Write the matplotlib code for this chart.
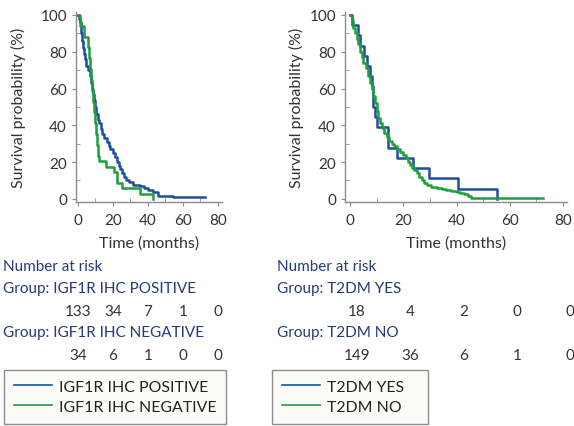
import matplotlib
matplotlib.use("Agg")
import matplotlib.pyplot as plt
import matplotlib.transforms as mtransforms
from matplotlib.ticker import MultipleLocator
from matplotlib.lines import Line2D

plt.rcParams['font.family'] = ['Lato', 'DejaVu Sans']

BLUE = '#1f4f9f'
GREEN = '#1f9e3c'
NAVY = '#263a78'
GREY_TXT = '#333333'

# ---- data: Kaplan-Meier steps (time in months, survival %) ----
igf_pos_t = [0, 0.5, 1, 1.5, 2, 2.5, 3, 3.5, 4.2, 4.7, 5.8, 6.6, 7.2, 7.8, 8.5, 9.2, 9.8,
             10.5, 11.2, 12.2, 13.2, 14.0, 14.8, 16.5, 17.5, 18.4, 20.0, 21.2, 22.3, 23.2,
             24.0, 25.2, 26.3, 27.2, 29.0, 31.5, 35.5, 38.0, 40.0, 43.0, 46.0, 54.5, 72.4]
igf_pos_s = [100, 98, 96, 93, 90, 86, 82, 79, 76, 72, 70, 67, 63, 60, 57, 54, 50,
             46, 43, 41, 38, 35, 33, 31, 29, 27, 25, 23, 20, 18,
             16, 14, 12, 10, 9, 7.5, 6.8, 6, 5, 4, 1.5, 0.75, 0.75]

igf_neg_t = [0, 1.3, 3.2, 5.7, 6.5, 6.8, 7.5, 8.2, 8.8, 9.3, 9.8, 10.3, 10.8, 11.3, 12.0,
             16.2, 20.6, 22.3, 25.3, 35.3, 42.9]
igf_neg_s = [100, 94.1, 88.2, 82.4, 76.5, 70.6, 64.7, 58.8, 52.9, 47.1, 41.2, 35.3, 29.4,
             23.5, 20.6, 17.6, 14.7, 8.8, 5.9, 2.9, 0]

t2dm_yes_t = [0, 0.6, 2.9, 3.75, 5.25, 6.25, 7.5, 8.1, 8.5, 9.4, 10.25, 14.4, 17.5, 23.5,
              29.75, 40.6, 55.25]
t2dm_yes_s = [100, 94.4, 88.9, 83.3, 77.8, 72.2, 66.7, 61.1, 50.0, 44.4, 38.9, 27.8, 22.2,
              16.7, 11.1, 5.6, 0]

t2dm_no_t = [0, 0.6, 1.25, 1.8, 2.5, 3.1, 3.75, 4.4, 5, 6, 6.9, 7.5, 8.1, 8.7, 9.4, 10,
             10.6, 11.2, 11.9, 12.8, 13.75, 14.6, 15.6, 16.5, 17.5, 18.8, 20, 21, 21.9,
             22.5, 23.2, 24, 25, 26, 26.9, 27.8, 28.75, 30.5, 32.5, 34.5, 36, 38, 40, 41.5,
             43, 44.5, 45.6, 72.5]
t2dm_no_s = [100, 97, 93, 90, 87, 84, 80, 77, 74, 71, 67, 63, 60, 56, 52, 48,
             44, 41, 38.5, 36, 33.5, 31.5, 30, 28.5, 27, 25.5, 24, 22, 20,
             18.5, 17, 15.5, 14, 12, 10, 8.7, 7.5, 6.7, 6, 5.4, 4.8, 4.4, 4, 3.4,
             2.5, 1.5, 0.7, 0.7]

risk_times = [0, 20, 40, 60, 80]
igf_pos_risk = [133, 34, 7, 1, 0]
igf_neg_risk = [34, 6, 1, 0, 0]
t2dm_yes_risk = [18, 4, 2, 0, 0]
t2dm_no_risk = [149, 36, 6, 1, 0]

W, H = 574, 427
fig = plt.figure(figsize=(W / 100, H / 100), dpi=100)


def px(x, y):
    return x / W, 1 - y / H


def make_axes(left, right, xlim):
    ax = fig.add_axes([left / W, 1 - 203 / H, (right - left) / W, 190 / H])
    ax.set_xlim(*xlim)
    ax.set_ylim(-1.7, 101.6)
    for s in ['top', 'right']:
        ax.spines[s].set_visible(False)
    for s in ['left', 'bottom']:
        ax.spines[s].set_color('#8c8c8c')
        ax.spines[s].set_linewidth(1.0)
    ax.xaxis.set_major_locator(MultipleLocator(20))
    ax.xaxis.set_minor_locator(MultipleLocator(10))
    ax.yaxis.set_major_locator(MultipleLocator(20))
    ax.yaxis.set_minor_locator(MultipleLocator(10))
    ax.tick_params(which='major', direction='out', length=3, color='#8c8c8c',
                   labelsize=11, labelcolor=GREY_TXT)
    ax.tick_params(axis='x', which='major', pad=5)
    ax.tick_params(axis='y', which='major', pad=3.5)
    ax.tick_params(which='minor', direction='in', length=3, color='#8c8c8c')
    ax.set_xlabel('Time (months)', fontsize=11.5, color=GREY_TXT, labelpad=6)
    ax.set_ylabel('Survival probability (%)', fontsize=11.5, color=GREY_TXT)
    return ax


def risk_table(ax, x0, title1, r1, title2, r2, dx):
    fig.text(*px(x0, 267), 'Number at risk', fontsize=11, color=NAVY, va='center')
    fig.text(*px(x0, 289), 'Group: ' + title1, fontsize=11, color=NAVY, va='center')
    fig.text(*px(x0, 333), 'Group: ' + title2, fontsize=11, color=NAVY, va='center')
    base = mtransforms.blended_transform_factory(ax.transData, fig.transFigure)
    tr = mtransforms.offset_copy(base, fig=fig, x=dx, y=0, units='dots')
    for t, a, b in zip(risk_times, r1, r2):
        ax.text(t, 1 - 312 / H, str(a), transform=tr, ha='center', va='center',
                fontsize=11, color=GREY_TXT, clip_on=False)
        ax.text(t, 1 - 356 / H, str(b), transform=tr, ha='center', va='center',
                fontsize=11, color=GREY_TXT, clip_on=False)


def legend_box(x0, x1, labels):
    handles = [Line2D([], [], color=BLUE, lw=1.2), Line2D([], [], color=GREEN, lw=1.2)]
    leg = fig.legend(handles, labels, loc='upper left',
                     bbox_to_anchor=(x0 / W, 1 - 425 / H, (x1 - x0) / W, 54 / H),
                     mode='expand', fontsize=11.4, frameon=True, fancybox=False,
                     edgecolor='#8c8c8c', facecolor='#fbfbf7', framealpha=1,
                     borderaxespad=0, borderpad=0.6, handlelength=2.4,
                     handletextpad=0.5, labelspacing=0.4)
    leg.get_frame().set_linewidth(1.0)
    for t in leg.get_texts():
        t.set_color('#222222')


# left panel
ax1 = make_axes(76, 222, (-1.14, 82.3))
ax1.step(igf_pos_t, igf_pos_s, where='post', color=BLUE, lw=1.8, clip_on=False)
ax1.step(igf_neg_t, igf_neg_s, where='post', color=GREEN, lw=1.8, clip_on=False)
ax1.yaxis.set_label_coords(-0.342, 0.5)
risk_table(ax1, 3, 'IGF1R IHC POSITIVE', igf_pos_risk, 'IGF1R IHC NEGATIVE', igf_neg_risk, 0)
legend_box(4, 226, ['IGF1R IHC POSITIVE', 'IGF1R IHC NEGATIVE'])

# right panel
ax2 = make_axes(345, 567, (-1.88, 81.5))
ax2.step(t2dm_yes_t, t2dm_yes_s, where='post', color=BLUE, lw=1.8, clip_on=False)
ax2.step(t2dm_no_t, t2dm_no_s, where='post', color=GREEN, lw=1.8, clip_on=False)
ax2.yaxis.set_label_coords(-0.185, 0.5)
risk_table(ax2, 277, 'T2DM YES', t2dm_yes_risk, 'T2DM NO', t2dm_no_risk, 7)
legend_box(272, 428, ['T2DM YES', 'T2DM NO'])

fig.savefig('out.png', dpi=100)
